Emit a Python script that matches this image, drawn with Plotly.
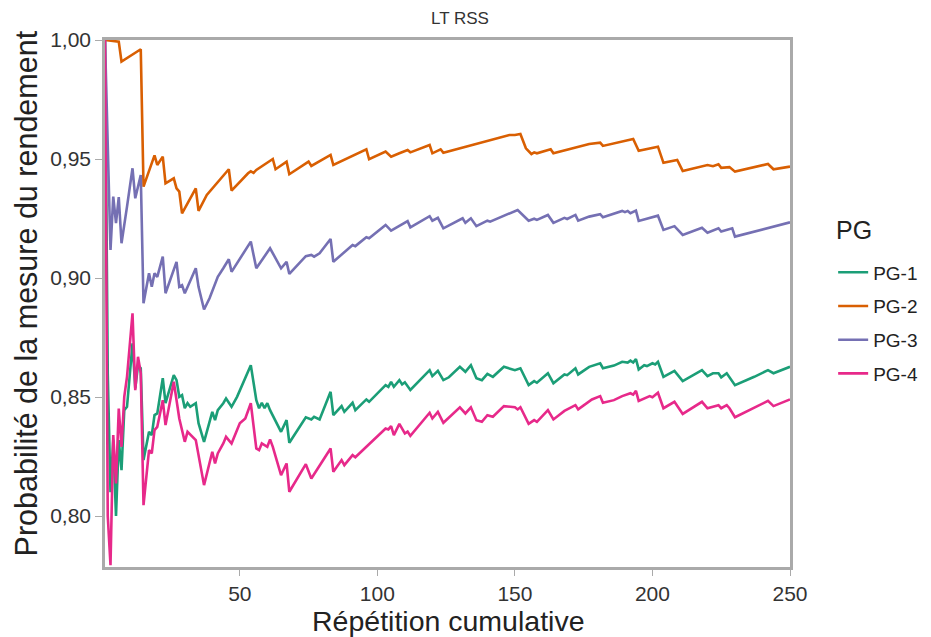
import plotly.graph_objects as go

# PG-1 (green)
x_pg1 = [1, 2, 3, 4, 5, 6, 7, 8, 9, 11, 12, 13, 14, 15, 17, 18, 19, 20, 22, 23, 26, 27, 28, 29, 30, 31, 32, 34, 35, 37,
         40, 41, 42, 44, 45, 46, 47, 49, 54, 56, 57, 58, 59, 60, 61, 65, 67, 68, 74, 76, 77, 79, 83, 84, 87, 88, 91, 92,
         96, 97, 103, 104, 105, 106, 108, 109, 110, 112, 119, 120, 122, 124, 126, 130, 132, 134, 136, 138, 140, 142,
         146, 150, 152, 155, 157, 158, 162, 164, 168, 169, 172, 173, 177, 181, 182, 186, 189, 191, 192, 193, 194, 195,
         197, 198, 200, 201, 202, 204, 208, 211, 218, 220, 222, 224, 225, 227, 228, 230, 237, 242, 244, 250]
y_pg1 = [1.0, 0.86, 0.81, 0.832, 0.80, 0.8319, 0.8193, 0.8445, 0.8459, 0.8726, 0.8537, 0.8634, 0.8621, 0.8235, 0.8354,
         0.834, 0.8424, 0.8431, 0.8579, 0.8474, 0.8592, 0.8571, 0.8501, 0.8508, 0.8453, 0.8474, 0.8459, 0.8474, 0.839,
         0.8312, 0.8438, 0.8403, 0.8445, 0.8474, 0.8494, 0.8474, 0.8459, 0.8501, 0.8634, 0.8487, 0.8453, 0.8476, 0.8453,
         0.8474, 0.8445, 0.8354, 0.8403, 0.8308, 0.8415, 0.8406, 0.8417, 0.8406, 0.8522, 0.8424, 0.8462, 0.8438, 0.8476,
         0.8445, 0.849, 0.848, 0.855, 0.8543, 0.8564, 0.8543, 0.8571, 0.8553, 0.8562, 0.853, 0.8613, 0.8588, 0.861,
         0.8571, 0.8583, 0.8627, 0.8606, 0.8634, 0.8579, 0.8571, 0.8597, 0.8585, 0.8627, 0.8613, 0.8621, 0.855, 0.8567,
         0.856, 0.86, 0.8558, 0.8595, 0.8592, 0.8621, 0.8595, 0.8627, 0.8642, 0.8621, 0.8632, 0.8648, 0.8645, 0.8653,
         0.8645, 0.866, 0.8616, 0.8634, 0.863, 0.8642, 0.8637, 0.8648, 0.8585, 0.861, 0.8567, 0.8613, 0.8588, 0.86, 0.86,
         0.8583, 0.86, 0.8585, 0.855, 0.8585, 0.8613, 0.86, 0.8627]

# PG-2 (orange)
x_pg2 = [1, 6, 7, 14, 15, 18, 19, 20, 22, 23, 26, 27, 28, 29, 34, 35, 38, 46, 47, 53, 54, 55, 56, 62, 63, 67, 68, 75, 76,
         83, 84, 96, 97, 103, 105, 108, 111, 112, 119, 120, 123, 124, 148, 150, 152, 154, 156, 157, 158, 163, 164, 177,
         181, 182, 193, 195, 202, 204, 209, 211, 220, 222, 224, 225, 228, 230, 242, 244, 250]
y_pg2 = [1.0, 0.9993, 0.9909, 0.9961, 0.9384, 0.948, 0.9515, 0.9475, 0.951, 0.9398, 0.9419, 0.9377, 0.9363, 0.9272,
         0.9377, 0.9282, 0.9349, 0.9457, 0.9367, 0.944, 0.9448, 0.9442, 0.9454, 0.95, 0.9457, 0.9489, 0.9436, 0.9489,
         0.9471, 0.9517, 0.9475, 0.9541, 0.9499, 0.9531, 0.951, 0.9524, 0.9538, 0.9528, 0.9559, 0.9524, 0.9541, 0.9526,
         0.9601, 0.9601, 0.9605, 0.9545, 0.9521, 0.9528, 0.9524, 0.9541, 0.9524, 0.9563, 0.9569, 0.9555, 0.9584, 0.9535,
         0.9552, 0.9484, 0.9496, 0.945, 0.9475, 0.947, 0.9478, 0.9463, 0.9466, 0.9447, 0.9479, 0.9457, 0.9468]

# PG-3 (purple)
x_pg3 = [1, 2, 3, 4, 5, 6, 7, 9, 11, 12, 14, 15, 17, 18, 19, 20, 22, 23, 27, 28, 29, 30, 34, 35, 37, 39, 42, 44, 46, 47,
         54, 56, 61, 65, 67, 68, 74, 76, 77, 79, 83, 84, 91, 92, 96, 97, 103, 105, 110, 111, 112, 119, 120, 122, 124,
         131, 132, 134, 136, 140, 141, 151, 155, 157, 158, 162, 164, 168, 169, 172, 173, 177, 181, 182, 189, 190, 191,
         192, 194, 195, 202, 204, 208, 211, 218, 220, 224, 225, 229, 230, 250]
y_pg3 = [1.0, 0.955, 0.9118, 0.9342, 0.9231, 0.934, 0.9146, 0.93, 0.9461, 0.9335, 0.9433, 0.8894, 0.902, 0.8963, 0.902,
         0.9005, 0.909, 0.8936, 0.9068, 0.8963, 0.897, 0.8936, 0.9041, 0.8963, 0.8868, 0.8915, 0.9005, 0.9041, 0.9079,
         0.9026, 0.9153, 0.9041, 0.9125, 0.9041, 0.9068, 0.9017, 0.9092, 0.9097, 0.909, 0.9104, 0.9164, 0.9068, 0.9139,
         0.9134, 0.9171, 0.9167, 0.9223, 0.9199, 0.9235, 0.9239, 0.9213, 0.926, 0.9241, 0.9253, 0.9209, 0.9251, 0.9232,
         0.9251, 0.9218, 0.9241, 0.9237, 0.9286, 0.9241, 0.9249, 0.9244, 0.9265, 0.9232, 0.9253, 0.9248, 0.9265, 0.9241,
         0.9258, 0.9268, 0.9255, 0.9282, 0.9277, 0.9282, 0.9272, 0.9283, 0.924, 0.9262, 0.9202, 0.9218, 0.9181, 0.9211,
         0.919, 0.9209, 0.9195, 0.9209, 0.9174, 0.9234]

# PG-4 (pink)
x_pg4 = [1, 2, 3, 4, 5, 6, 7, 8, 9, 11, 12, 13, 14, 15, 17, 18, 19, 20, 22, 23, 26, 28, 30, 31, 34, 37, 40, 41, 42, 44,
         45, 47, 50, 52, 54, 56, 57, 58, 60, 61, 62, 65, 67, 68, 74, 76, 83, 84, 87, 88, 91, 92, 103, 104, 105, 106, 108,
         110, 111, 112, 119, 120, 122, 124, 130, 132, 134, 136, 138, 140, 142, 146, 150, 151, 152, 155, 157, 158, 162,
         164, 168, 172, 173, 178, 181, 182, 186, 189, 192, 193, 194, 195, 199, 200, 202, 204, 208, 211, 218, 220, 224,
         225, 227, 228, 230, 236, 242, 244, 250]
y_pg4 = [1.0, 0.80, 0.7794, 0.834, 0.8137, 0.8452, 0.8291, 0.8501, 0.8585, 0.8852, 0.8529, 0.8669, 0.86, 0.8046, 0.8277,
         0.8263, 0.8361, 0.8375, 0.8487, 0.8382, 0.8564, 0.841, 0.8312, 0.8354, 0.8319, 0.813, 0.827, 0.8221, 0.8263,
         0.8305, 0.8333, 0.8305, 0.839, 0.841, 0.8474, 0.8284, 0.8277, 0.8305, 0.8291, 0.8322, 0.8291, 0.8172, 0.8221,
         0.8102, 0.8218, 0.8158, 0.8284, 0.8186, 0.8235, 0.8214, 0.8256, 0.8247, 0.8368, 0.8364, 0.8378, 0.834, 0.8387,
         0.8347, 0.8355, 0.8337, 0.8434, 0.841, 0.8438, 0.8392, 0.8457, 0.8431, 0.8457, 0.8403, 0.8396, 0.8424, 0.8417,
         0.8462, 0.8457, 0.8448, 0.8457, 0.8387, 0.8403, 0.8396, 0.8445, 0.8406, 0.8442, 0.8466, 0.8448, 0.849, 0.8504,
         0.8476, 0.8487, 0.8504, 0.8516, 0.851, 0.8526, 0.8484, 0.8504, 0.8499, 0.8518, 0.8453, 0.848, 0.8429, 0.848,
         0.8453, 0.8466, 0.8453, 0.8466, 0.8453, 0.8415, 0.8448, 0.8484, 0.8462, 0.849]

series_names = ["PG-1", "PG-2", "PG-3", "PG-4"]
colors = ["#1b9e77", "#d95f02", "#7570b3", "#e7298a"]

x_ticks = [50, 100, 150, 200, 250]
y_ticks = [0.80, 0.85, 0.90, 0.95, 1.00]

FONT = "Liberation Sans, Arial, sans-serif"

fig = go.Figure()
for name, xs, ys, c in zip(series_names, [x_pg1, x_pg2, x_pg3, x_pg4], [y_pg1, y_pg2, y_pg3, y_pg4], colors):
    fig.add_trace(go.Scatter(x=xs, y=ys, mode="lines", name=name, legendgroup=name,
                             line=dict(color=c, width=2.6)))

fig.update_layout(
    width=931, height=637,
    paper_bgcolor="white", plot_bgcolor="white",
    separators=",.",
    margin=dict(l=97, r=149, t=32, b=78),
    font=dict(family=FONT, color="#333333"),
    title=dict(text="LT RSS", x=452 / 931, xanchor="center", y=1 - 10 / 637, yanchor="middle",
               font=dict(size=17, color="#333333")),
    showlegend=True,
    legend=dict(font=dict(size=19, color="#222222"),
                x=1.063, xanchor="left", y=0.595, yanchor="top",
                tracegroupgap=6, itemwidth=30),
    annotations=[
        dict(text="PG", xref="paper", yref="paper", x=1.064, y=0.6395, xanchor="left", yanchor="middle",
             showarrow=False, font=dict(size=25, color="#222222")),
        dict(text="Répétition cumulative", xref="paper", yref="paper", x=0.5, y=-0.1025,
             xanchor="center", yanchor="middle", showarrow=False, font=dict(size=28.5, color="#222222")),
        dict(text="Probabilité de la mesure du rendement", xref="paper", yref="paper", x=-0.1139, y=0.519,
             xanchor="center", yanchor="middle", textangle=-90, showarrow=False,
             font=dict(size=30.5, color="#222222")),
    ],
)
fig.update_xaxes(range=[1, 250], tickvals=x_ticks, ticks="outside", ticklen=6, tickcolor="#aaaaaa", tickwidth=1,
                 showgrid=False, zeroline=False, showline=True, linecolor="#aaaaaa", linewidth=2.5, mirror=True,
                 tickfont=dict(size=21, color="#333333"))
fig.update_yaxes(range=[0.7786, 1.0], tickvals=y_ticks, tickformat=".2f", ticks="outside", ticklen=7,
                 tickcolor="#aaaaaa", tickwidth=1,
                 showgrid=False, zeroline=False, showline=True, linecolor="#aaaaaa", linewidth=2.5, mirror=True,
                 tickfont=dict(size=21, color="#333333"))

fig.write_html("out.html")
